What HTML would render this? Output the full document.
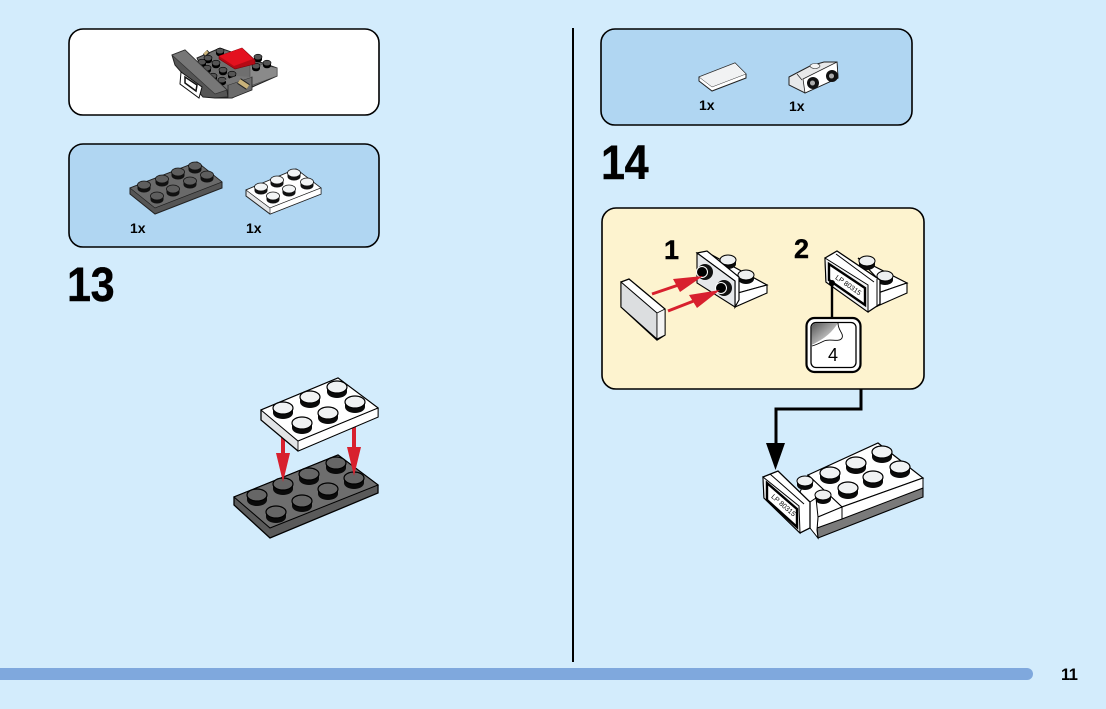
<!DOCTYPE html>
<html><head><meta charset="utf-8">
<style>html,body{margin:0;padding:0;background:#d3ecfc}svg{display:block}text{font-family:"Liberation Sans",sans-serif;font-weight:bold;fill:#000}</style>
</head><body>
<svg width="1106" height="709" viewBox="0 0 1106 709" xmlns="http://www.w3.org/2000/svg">
<defs>
<g id="dS"><path d="M-10 0v5a10 6 0 0 0 20 0v-5z" fill="#0a0a0a"/><ellipse cx="0" cy="0" rx="10" ry="6" fill="#666" stroke="#000" stroke-width="1.2"/></g>
<g id="wS"><path d="M-10 0v5a10 6 0 0 0 20 0v-5z" fill="#0a0a0a"/><ellipse cx="0" cy="0" rx="10" ry="6" fill="#f0f2f3" stroke="#000" stroke-width="1.2"/></g>
<g id="dSs"><path d="M-6.500 0v3.500a6.500 4 0 0 0 13 0v-3.500z" fill="#111"/><ellipse cx="0" cy="0" rx="6.500" ry="4" fill="#5e5e5e" stroke="#111" stroke-width=".8"/></g>
<g id="wSs"><path d="M-6.500 0v3.500a6.500 4 0 0 0 13 0v-3.500z" fill="#111"/><ellipse cx="0" cy="0" rx="6.500" ry="4" fill="#f2f4f5" stroke="#111" stroke-width=".8"/></g>
<g id="mS"><path d="M-8 0v4a8 5 0 0 0 16 0v-4z" fill="#0a0a0a"/><ellipse cx="0" cy="0" rx="8" ry="5" fill="#eef0f1" stroke="#000" stroke-width="1"/></g>
<g id="tS"><path d="M-4 0v2.500a4 2.800 0 0 0 8 0v-2.500z" fill="#000"/><ellipse cx="0" cy="0" rx="4" ry="2.800" fill="#555" stroke="#000" stroke-width=".6"/></g>
<linearGradient id="peel" x1="0" y1="0" x2="1" y2="1"><stop offset="0" stop-color="#555"/><stop offset=".8" stop-color="#ddd"/></linearGradient>
</defs>
<rect width="1106" height="709" fill="#d3ecfc"/>
<line x1="573" y1="28" x2="573" y2="662" stroke="#000" stroke-width="2"/>
<path d="M0 668H1027a6 6 0 0 1 0 12H0z" fill="#7fa8dd"/>
<text x="1061" y="680" font-size="16.500" letter-spacing="-.5">11</text>

<!-- Panels -->
<rect x="69" y="29" width="310" height="86" rx="14" fill="#fff" stroke="#000" stroke-width="1.600"/>
<rect x="69" y="144" width="310" height="103" rx="14" fill="#b0d6f2" stroke="#000" stroke-width="1.600"/>
<rect x="601" y="29" width="311" height="96" rx="14" fill="#b0d6f2" stroke="#000" stroke-width="1.600"/>
<rect x="602" y="208" width="322" height="181" rx="14" fill="#fdf3cf" stroke="#000" stroke-width="1.600"/>

<!-- Top-left assembly -->
<polygon points="197,58 220,48 277,68 277,76 250,88 232,98 215,98" fill="#6f6f6f" stroke="#222" stroke-width="1"/>
<polygon points="250,62 277,68 277,76 250,86" fill="#8a8a8a" stroke="#444" stroke-width=".5"/>
<path d="M205 52l3 3" stroke="#222" stroke-width="6"/><path d="M205 52l2 2" stroke="#c9b27a" stroke-width="4.500"/>
<use href="#tS" x="208" y="58"/><use href="#tS" x="220" y="51"/><use href="#tS" x="202" y="62"/><use href="#tS" x="216" y="63"/><use href="#tS" x="207" y="68"/><use href="#tS" x="223" y="70"/><use href="#tS" x="213" y="76"/><use href="#tS" x="232" y="74"/><use href="#tS" x="222" y="80"/><use href="#tS" x="258" y="57"/><use href="#tS" x="267" y="63"/><use href="#tS" x="256" y="66"/>
<polygon points="172,55 185,50 227,90 228,97 215,98 203,97 175,65" fill="#555" stroke="#222" stroke-width="1"/>
<polygon points="172,55 185,50 227,90 215,94" fill="#777" stroke="#333" stroke-width=".7"/>
<polygon points="181,72 202,87 199,98 180,84" fill="#fff" stroke="#111" stroke-width="1"/>
<polygon points="185,77 197,85 196,91 185,83" fill="#fff" stroke="#111" stroke-width="1.500"/>
<polygon points="219,56 242,48 255,60 255,64 235,69 219,59" fill="#b50a15" stroke="#7a0008" stroke-width=".6"/>
<polygon points="219,56 242,48 253,59 234,66" fill="#e4111f"/>
<polygon points="228,85 252,77 252,90 232,98 228,98" fill="#6b6b6b" stroke="#222" stroke-width=".8"/>
<polygon points="225,80 236,76 252,77 228,85" fill="#777"/>
<path d="M239 81l9 6" stroke="#222" stroke-width="6.500"/><path d="M239 81l9 6" stroke="#c9b27a" stroke-width="4.500"/>

<!-- Parts: 13 -->
<polygon points="130,188 197,162 222,182 222,188 155,214 130,194" fill="#555" stroke="#222" stroke-width="1"/>
<polygon points="130,188 197,162 222,182 155,208" fill="#6a6a6a" stroke="#222" stroke-width=".7"/>
<use href="#dSs" x="195" y="166"/><use href="#dSs" x="178" y="172"/><use href="#dSs" x="207" y="175"/><use href="#dSs" x="162" y="179"/><use href="#dSs" x="190" y="181"/><use href="#dSs" x="144" y="185"/><use href="#dSs" x="173" y="189"/><use href="#dSs" x="157" y="196"/>
<polygon points="246,190 296,169 321,188 321,194 270,214 246,196" fill="#e4e6e8" stroke="#222" stroke-width="1"/>
<polygon points="246,190 296,169 321,188 270,208" fill="#fff" stroke="#222" stroke-width=".7"/>
<polygon points="270,208 321,188 321,194 270,214" fill="#fff" stroke="#222" stroke-width=".6"/>
<use href="#wSs" x="294" y="173"/><use href="#wSs" x="277" y="180"/><use href="#wSs" x="307" y="182"/><use href="#wSs" x="261" y="187"/><use href="#wSs" x="289" y="189"/><use href="#wSs" x="273" y="196"/>
<text x="130" y="233" font-size="14">1x</text>
<text x="246" y="233" font-size="14">1x</text>
<text transform="translate(67,301) scale(.9,1)" font-size="48" letter-spacing="-.5" stroke="#000" stroke-width=".4">13</text>

<!-- Step 13 main: dark plate -->
<polygon points="234,497 338,455 378,485 378,493 270,538 234,505" fill="#5a5a5a" stroke="#000" stroke-width="1.300"/>
<polygon points="234,497 338,455 378,485 270,528" fill="#6e6e6e" stroke="#000" stroke-width="1"/>
<use href="#dS" x="336" y="463"/><use href="#dS" x="309" y="474"/><use href="#dS" x="354" y="478"/><use href="#dS" x="283" y="484"/><use href="#dS" x="328" y="489"/><use href="#dS" x="257" y="495"/><use href="#dS" x="302" y="501"/><use href="#dS" x="276" y="512"/>
<!-- arrows -->
<polygon points="281,436 285,436 285,453 290,453 283,482 276,453 281,453" fill="#d8202e"/>
<polygon points="352,426 356,426 356,447 361,447 354,476 347,447 352,447" fill="#d8202e"/>
<!-- white plate -->
<polygon points="261,410 338,378 378,408 378,417 298,451 261,420" fill="#e2e4e6" stroke="#000" stroke-width="1.300"/>
<polygon points="298,441 378,408 378,417 298,451" fill="#fff" stroke="#000" stroke-width=".8"/>
<polygon points="261,410 338,378 378,408 298,441" fill="#fff" stroke="#000" stroke-width="1"/>
<use href="#wS" x="337" y="387"/><use href="#wS" x="310" y="397"/><use href="#wS" x="355" y="402"/><use href="#wS" x="283" y="408"/><use href="#wS" x="328" y="413"/><use href="#wS" x="302" y="423"/>

<!-- Parts: 14 -->
<polygon points="699,77 735,63 746,74 746,78 712,91 699,81" fill="#fff" stroke="#222" stroke-width="1"/>
<polygon points="699,77 735,63 746,74 712,87" fill="#f1f2f3" stroke="#333" stroke-width=".5"/>
<polygon points="789,77 810,66 824,62 837,62 838,78 805,93 789,85" fill="#e8e9ea" stroke="#222" stroke-width="1"/>
<ellipse cx="815" cy="66" rx="5" ry="2.500" fill="#f4f4f4" stroke="#222" stroke-width=".6"/>
<polygon points="803,79 837,62 838,78 805,93" fill="#fff" stroke="#222" stroke-width=".8"/>
<path d="M797 74l5 6" stroke="#222" stroke-width=".7"/>
<circle cx="813" cy="83" r="6" fill="#111"/><circle cx="812.500" cy="83" r="2.800" fill="#aaa" stroke="#000" stroke-width=".5"/>
<circle cx="832" cy="76" r="6" fill="#111"/><circle cx="831.500" cy="76" r="2.800" fill="#aaa" stroke="#000" stroke-width=".5"/>
<text x="699" y="110" font-size="14">1x</text>
<text x="789" y="111" font-size="14">1x</text>
<text transform="translate(601,179) scale(.9,1)" font-size="48" letter-spacing="-.5" stroke="#000" stroke-width=".4">14</text>

<!-- Substep 1 -->
<text x="664" y="259" font-size="27" stroke="#000" stroke-width=".4">1</text>
<text x="794" y="258" font-size="27" stroke="#000" stroke-width=".4">2</text>
<polygon points="621,282 629,279 665,309 665,335 657,340 621,307" fill="#fff" stroke="#000" stroke-width="1.300"/>
<polygon points="621,282 657,313 657,339 621,307" fill="#dcdee0" stroke="#000" stroke-width="1"/>
<polygon points="657,313 665,309 665,335 657,339" fill="#f4f4f4" stroke="#000" stroke-width=".8"/>
<!-- bracket 1 -->
<polygon points="712,255 767,285 738,293 735,290" fill="#fff" stroke="#000" stroke-width="1.200"/>
<use href="#mS" x="728" y="260"/><use href="#mS" x="746" y="275"/>
<polygon points="738,293 767,285 767,293 735,307 735,297" fill="#fff" stroke="#000" stroke-width="1.100"/>
<polygon points="697,253 707,251 739,277 739,300 735,307 735,281" fill="#fff" stroke="#000" stroke-width="1.200"/>
<polygon points="697,253 735,281 735,307 697,283" fill="#e6e8ea" stroke="#000" stroke-width="1.100"/>
<circle cx="705" cy="272" r="8" fill="#111"/><circle cx="702" cy="272" r="5.500" fill="#000" stroke="#fff" stroke-width="1"/>
<circle cx="724" cy="288" r="8" fill="#111"/><circle cx="721" cy="288" r="5.500" fill="#000" stroke="#fff" stroke-width="1"/>
<path d="M652 294L680 284.500" stroke="#d8202e" stroke-width="3"/>
<polygon points="673,279 703,276 680,292" fill="#d8202e"/>
<path d="M668 311L695 300.500" stroke="#d8202e" stroke-width="3"/>
<polygon points="689,295 720,290 697,308" fill="#d8202e"/>

<!-- Substep 2 -->
<polygon points="858,258 907,283 878,293 877,278" fill="#fff" stroke="#000" stroke-width="1.200"/>
<use href="#mS" x="867" y="261"/><use href="#mS" x="885" y="276"/>
<polygon points="878,293 907,283 907,293 873,308 873,298" fill="#fff" stroke="#000" stroke-width="1.100"/>
<polygon points="825,258 837,251 880,280 880,304 868,312 826,282" fill="#fff" stroke="#000" stroke-width="1.300"/>
<line x1="836" y1="254" x2="874" y2="282" stroke="#000" stroke-width="1"/>
<line x1="877" y1="279" x2="877" y2="307" stroke="#000" stroke-width="1"/>
<polygon points="825,258 868,285 868,312 826,282" fill="#f2f3f4" stroke="#000" stroke-width="1"/>
<polygon points="829,264 865,288 865,305 829,280" fill="#fff" stroke="#000" stroke-width="2.400"/>
<text transform="translate(847,287) rotate(35)" font-size="7" text-anchor="middle" style="font-weight:normal">LP 80315</text>
<line x1="832" y1="283" x2="832" y2="318" stroke="#000" stroke-width="2.400"/>
<circle cx="832" cy="283" r="3" fill="#000"/>
<rect x="806.500" y="318" width="54" height="54" rx="8" fill="#fff" stroke="#000" stroke-width="2.200"/>
<rect x="811" y="322.500" width="45" height="45" rx="5" fill="#fff" stroke="#000" stroke-width="1.300"/>
<path d="M811.500 345V328a5 5 0 0 1 5-5H838C832 332 826 338 811.500 345z" fill="url(#peel)"/>
<path d="M838 323c0 8 6 10 4 15c-3 5-12 0-18 3c-4 2-8 4-12 5" fill="none" stroke="#000" stroke-width=".9"/>
<text x="833" y="361" font-size="18" text-anchor="middle" style="font-weight:normal">4</text>

<!-- Connector -->
<polyline points="861,389 861,409 776,409 776,445" fill="none" stroke="#000" stroke-width="3"/>
<polygon points="766,443 785,443 775.500,470" fill="#000"/>

<!-- Final assembly 14 -->
<polygon points="817,528 923,488 923,497 818,538" fill="#7a7a7a" stroke="#000" stroke-width="1.100"/>
<polygon points="808,475 878,443 923,478 842,507" fill="#fff" stroke="#000" stroke-width="1.200"/>
<polygon points="842,507 923,478 923,488 842,519" fill="#fff" stroke="#000" stroke-width="1"/>
<polygon points="808,475 842,507 818,517 800,492" fill="#fff" stroke="#000" stroke-width="1"/>
<use href="#wS" x="882" y="452"/><use href="#wS" x="856" y="463"/><use href="#wS" x="900" y="467"/><use href="#wS" x="830" y="473"/><use href="#wS" x="873" y="477"/><use href="#wS" x="848" y="488"/>
<use href="#mS" x="805" y="481"/><use href="#mS" x="823" y="495"/>
<polygon points="818,517 842,507 842,519 817,528" fill="#fff" stroke="#000" stroke-width="1"/>
<polygon points="810,502 816,498 818,517 817,530 818,538 810,528" fill="#fff" stroke="#000" stroke-width="1"/>
<polygon points="763,477 778,471 810,502 810,528 800,533 764,498" fill="#fff" stroke="#000" stroke-width="1.300"/>
<polygon points="763,477 799,506 800,533 764,498" fill="#f2f3f4" stroke="#000" stroke-width="1"/>
<line x1="770" y1="474" x2="804" y2="504" stroke="#000" stroke-width="1"/>
<polygon points="767,483 797,509 797,527 767,500" fill="#fff" stroke="#000" stroke-width="2.400"/>
<text transform="translate(782,507) rotate(41)" font-size="7" text-anchor="middle" style="font-weight:normal">LP 80315</text>
</svg>
</body></html>
